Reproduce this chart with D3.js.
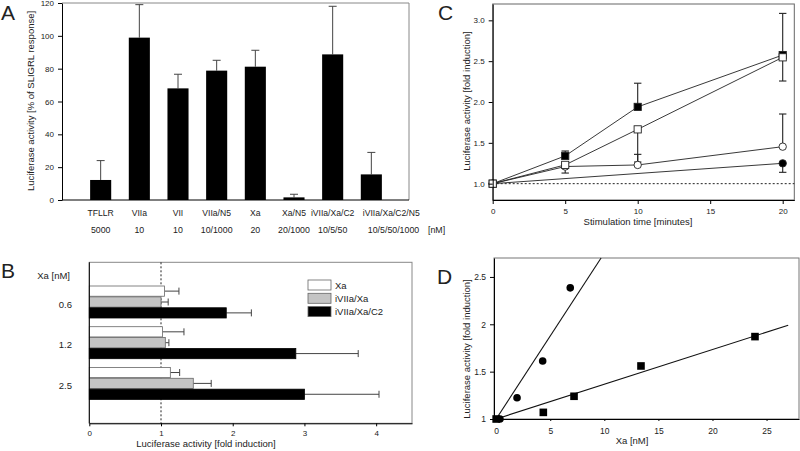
<!DOCTYPE html>
<html><head><meta charset="utf-8">
<script src="https://cdn.jsdelivr.net/npm/d3@7"></script>
<style>
body{margin:0;background:#fff;}
svg text{font-family:"Liberation Sans",Arial,Helvetica,sans-serif;fill:#222;}
</style></head>
<body><svg id="c" width="800" height="451"></svg>
<script>
// ---------- Panel A data ----------
const catsA = ["TFLLR","VIIa","VII","VIIa/N5","Xa","Xa/N5","iVIIa/Xa/C2","iVIIa/Xa/C2/N5"];
const concA = ["5000","10","10","10/1000","20","20/1000","10/5/50","10/5/50/1000"];
const valuesA = [12.2, 98.9, 68, 78.8, 81.2, 1.6, 88.7, 15.6];
const errorsA = [11.8, 20.1, 8.6, 6.3, 10.0, 1.9, 29.3, 13.4];
const ticksA = [0,20,40,60,80,100,120];
// ---------- Panel B data ----------
const groupsB = ["0.6","1.2","2.5"];
const seriesB = ["Xa","iVIIa/Xa","iVIIa/Xa/C2"];
const valXaB = [1.05, 1.02, 1.13];
const errXaB = [0.20, 0.30, 0.13];
const valIVIIaXaB = [1.00, 1.06, 1.45];
const errIVIIaXaB = [0.10, 0.05, 0.25];
const valC2B = [1.91, 2.88, 3.00];
const errC2B = [0.35, 0.87, 1.04];
const ticksB = [0,1,2,3,4];
// ---------- Panel C data ----------
const timesC = [0,5,10,20];
const filledSqC = [1.0, 1.34, 1.94, 2.575];
const filledSqErrUp = [0, 0.06, 0.29, 0.51];
const openSqC = [1.0, 1.23, 1.665, 2.547];
const openSqErrDown = [0, 0.10, 0.40, 0.29];
const openCircC = [1.0, 1.21, 1.229, 1.453];
const openCircErrUp = [0, 0.04, 0.13, 0.40];
const timesFilledCircC = [0, 20];
const filledCircC = [1.0, 1.249];
const filledCircErrDown = [0, 0.11];
const ticksCx = [0,5,10,15,20];
const ticksCy = [1.0,1.5,2.0,2.5,3.0];
// ---------- Panel D data ----------
const circXD = [0.35, 1.93, 4.3, 6.85];
const circYD = [1.0, 1.225, 1.612, 2.385];
const sqXD = [0, 4.36, 7.2, 13.39, 23.93];
const sqYD = [1.0, 1.07, 1.24, 1.56, 1.87];
const fitCircD = [[0,1.0],[9.7,2.7]];
const fitSqD = [[0,1.0],[27,1.99]];
const ticksDx = [0,5,10,15,20,25];
const ticksDy = [1,1.5,2,2.5];

const svg = d3.select("#c");
const FS = "Liberation Sans";

function styleAxis(g, fs){
  g.selectAll("path.domain").attr("stroke","#000").attr("stroke-width",1);
  g.selectAll(".tick line").attr("stroke","#000");
  g.selectAll(".tick text").attr("font-size",fs).attr("fill","#222").attr("font-family",FS);
}
function letter(t,x,y){svg.append("text").attr("x",x).attr("y",y).attr("font-size",21).text(t);}

// ================= Panel A =================
{
  const L=62,R=409,T=3,B=200;
  const y = d3.scaleLinear().domain([0,120]).range([B,T]);
  const x = d3.scaleBand().domain(catsA).range([L,410]).paddingInner(0.455).paddingOuter(0.7275);
  const g = svg.append("g");
  g.append("line").attr("x1",L).attr("x2",R).attr("y1",T).attr("y2",T).attr("stroke","#888");
  g.append("line").attr("x1",R).attr("x2",R).attr("y1",T).attr("y2",B).attr("stroke","#888");
  g.append("line").attr("x1",L).attr("x2",R).attr("y1",B).attr("y2",B).attr("stroke","#000");
  catsA.forEach((c,i)=>{
    const cx = x(c)+x.bandwidth()/2;
    g.append("line").attr("x1",cx).attr("x2",cx).attr("y1",y(valuesA[i])).attr("y2",y(valuesA[i]+errorsA[i])).attr("stroke","#444");
    g.append("line").attr("x1",cx-4).attr("x2",cx+4).attr("y1",y(valuesA[i]+errorsA[i])).attr("y2",y(valuesA[i]+errorsA[i])).attr("stroke","#444");
  });
  g.selectAll("rect.a").data(catsA).join("rect")
    .attr("x",d=>x(d)).attr("width",x.bandwidth())
    .attr("y",(d,i)=>y(valuesA[i])).attr("height",(d,i)=>B-y(valuesA[i])).attr("fill","#000");
  const ax = g.append("g").attr("transform",`translate(${L},0)`)
    .call(d3.axisLeft(y).tickValues(ticksA).tickSize(4).tickPadding(4).tickSizeOuter(0));
  styleAxis(ax,8);
  catsA.forEach((c,i)=>{
    const cx = x(c)+x.bandwidth()/2;
    const last = i===catsA.length-1;
    g.append("text").attr("x", last? cx-8.5 : cx).attr("y",216).attr("font-size",8.6)
      .attr("text-anchor", last?"start":"middle").text(c);
    g.append("text").attr("x", last? cx-3.5 : cx).attr("y",233).attr("font-size",8.8)
      .attr("text-anchor", last?"start":"middle").text(concA[i]);
  });
  g.append("text").attr("x",428).attr("y",233).attr("font-size",8.8).text("[nM]");
  g.append("text").attr("transform","translate(34,101) rotate(-90)").attr("text-anchor","middle")
    .attr("font-size",9.5).text("Luciferase activity [% of SLIGRL response]");
  letter("A",1,20);
}

// ================= Panel B =================
{
  const L=89.3,R=412,T=262.3,B=423.3;
  const x = d3.scaleLinear().domain([0,4.5]).range([L,R]);
  const y = d3.scaleBand().domain(groupsB).range([281.65,403.75]).paddingInner(0.214).paddingOuter(0.107);
  const yi = d3.scaleBand().domain(seriesB).range([0,y.bandwidth()]).paddingInner(0.06);
  const g = svg.append("g");
  g.append("rect").attr("x",L).attr("y",T).attr("width",R-L).attr("height",B-T).attr("fill","none").attr("stroke","#888");
  g.append("line").attr("x1",x(1)).attr("x2",x(1)).attr("y1",T).attr("y2",B).attr("stroke","#222").attr("stroke-dasharray","2,2");
  const fills = ["#fff","#c4c4c4","#000"];
  const vals = [valXaB,valIVIIaXaB,valC2B];
  const errs = [errXaB,errIVIIaXaB,errC2B];
  seriesB.forEach((s,si)=>{
    groupsB.forEach((gr,gi)=>{
      const yy = y(gr)+yi(s);
      const cy = yy+yi.bandwidth()/2;
      const v = vals[si][gi], e = errs[si][gi];
      g.append("line").attr("x1",x(v)).attr("x2",x(v+e)).attr("y1",cy).attr("y2",cy).attr("stroke","#444");
      g.append("line").attr("x1",x(v+e)).attr("x2",x(v+e)).attr("y1",cy-3.5).attr("y2",cy+3.5).attr("stroke","#444");
      g.append("rect").attr("x",L).attr("y",yy).attr("width",x(v)-L).attr("height",yi.bandwidth())
        .attr("fill",fills[si]).attr("stroke", si===2?"#000":"#666").attr("stroke-width",0.8);
    });
  });
  const ax = g.append("g").attr("transform",`translate(0,${B})`)
    .call(d3.axisBottom(x).tickValues(ticksB).tickFormat(d3.format("d")).tickSize(3).tickPadding(4).tickSizeOuter(0));
  styleAxis(ax,8);
  g.append("line").attr("x1",L).attr("x2",L).attr("y1",T).attr("y2",B).attr("stroke","#000");
  groupsB.forEach(gr=>{
    g.append("text").attr("x",72).attr("y",y(gr)+y.bandwidth()/2+5.5).attr("text-anchor","end").attr("font-size",9.5).text(gr);
  });
  g.append("text").attr("x",70).attr("y",279).attr("text-anchor","end").attr("font-size",9.5).text("Xa [nM]");
  g.append("text").attr("x",206).attr("y",447).attr("text-anchor","middle").attr("font-size",9.5).text("Luciferase activity [fold induction]");
  seriesB.forEach((s,si)=>{
    const yy = 280+si*13.3;
    g.append("rect").attr("x",308).attr("y",yy).attr("width",23).attr("height",10).attr("fill",fills[si]).attr("stroke","#666").attr("stroke-width",0.8);
    g.append("text").attr("x",335).attr("y",yy+8.5).attr("font-size",9.5).text(s);
  });
  letter("B",1,278);
}

// ================= Panel C =================
{
  const L=492.7,R=794.3,T=4,B=200;
  const x = d3.scaleLinear().domain([0,20.8]).range([L,R]);
  const y = d3.scaleLinear().domain([0.8,3.2]).range([B,T]);
  const g = svg.append("g");
  g.append("rect").attr("x",L).attr("y",T).attr("width",R-L).attr("height",B-T).attr("fill","none").attr("stroke","#666");
  g.append("line").attr("x1",L).attr("x2",R).attr("y1",y(1)).attr("y2",y(1)).attr("stroke","#222").attr("stroke-dasharray","2,2");
  const line = d3.line().x(d=>x(d[0])).y(d=>y(d[1]));
  const series = [
    {t:timesFilledCircC, v:filledCircC, e:filledCircErrDown, dir:-1, shape:"circle", fill:"#000"},
    {t:timesC, v:openCircC, e:openCircErrUp, dir:1, shape:"circle", fill:"#fff"},
    {t:timesC, v:filledSqC, e:filledSqErrUp, dir:1, shape:"square", fill:"#000"},
    {t:timesC, v:openSqC, e:openSqErrDown, dir:-1, shape:"square", fill:"#fff"}
  ];
  series.forEach(s=>{
    g.append("path").attr("d",line(s.t.map((t,i)=>[t,s.v[i]]))).attr("fill","none").attr("stroke","#222").attr("stroke-width",0.9);
  });
  series.forEach(s=>{
    s.t.forEach((t,i)=>{
      if(!s.e[i]) return;
      const y2 = y(s.v[i]+s.dir*s.e[i]);
      g.append("line").attr("x1",x(t)).attr("x2",x(t)).attr("y1",y(s.v[i])).attr("y2",y2).attr("stroke","#222").attr("stroke-width",1.1);
      g.append("line").attr("x1",x(t)-3.7).attr("x2",x(t)+3.7).attr("y1",y2).attr("y2",y2).attr("stroke","#222").attr("stroke-width",1.1);
    });
  });
  series.forEach(s=>{
    s.t.forEach((t,i)=>{
      if(s.shape==="circle")
        g.append("circle").attr("cx",x(t)).attr("cy",y(s.v[i])).attr("r",3.7).attr("fill",s.fill).attr("stroke","#222").attr("stroke-width",0.9);
      else
        g.append("rect").attr("x",x(t)-3.6).attr("y",y(s.v[i])-3.6).attr("width",7.2).attr("height",7.2).attr("fill",s.fill).attr("stroke","#222").attr("stroke-width",0.9);
    });
  });
  const ay = g.append("g").attr("transform",`translate(${L},0)`)
    .call(d3.axisLeft(y).tickValues(ticksCy).tickFormat(d3.format(".1f")).tickSize(4).tickPadding(4).tickSizeOuter(0));
  styleAxis(ay,8);
  const ax = g.append("g").attr("transform",`translate(0,${B})`)
    .call(d3.axisBottom(x).tickValues(ticksCx).tickSize(4).tickPadding(4).tickSizeOuter(0));
  styleAxis(ax,8);
  g.append("text").attr("x",638).attr("y",225).attr("text-anchor","middle").attr("font-size",9.5).text("Stimulation time [minutes]");
  g.append("text").attr("transform","translate(470,101) rotate(-90)").attr("text-anchor","middle")
    .attr("font-size",9.5).text("Luciferase activity [fold induction]");
  letter("C",438,20);
}

// ================= Panel D =================
{
  const L=494,R=799,T=258,B=419;
  const x = d3.scaleLinear().domain([-0.2,28]).range([L,R]);
  const y = d3.scaleLinear().domain([1,2.7]).range([B,T]);
  const g = svg.append("g");
  g.append("rect").attr("x",L).attr("y",T).attr("width",R-L).attr("height",B-T).attr("fill","none").attr("stroke","#777");
  const line = d3.line().x(d=>x(d[0])).y(d=>y(d[1]));
  [fitCircD,fitSqD].forEach(f=>g.append("path").attr("d",line(f)).attr("fill","none").attr("stroke","#111").attr("stroke-width",1.1));
  sqXD.forEach((v,i)=>g.append("rect").attr("x",x(v)-3.8).attr("y",y(sqYD[i])-3.8).attr("width",7.6).attr("height",7.6).attr("fill","#000"));
  circXD.forEach((v,i)=>g.append("circle").attr("cx",x(v)).attr("cy",y(circYD[i])).attr("r",3.8).attr("fill","#000"));
  const ay = g.append("g").attr("transform",`translate(${L},0)`)
    .call(d3.axisLeft(y).tickValues(ticksDy).tickFormat(d3.format("~g")).tickSize(4).tickPadding(4).tickSizeOuter(0));
  styleAxis(ay,8.5);
  const ax = g.append("g").attr("transform",`translate(0,${B})`)
    .call(d3.axisBottom(x).tickValues(ticksDx).tickFormat(d3.format("d")).tickSize(2).tickPadding(7).tickSizeOuter(0));
  styleAxis(ax,8.5);
  g.append("text").attr("x",632).attr("y",444).attr("text-anchor","middle").attr("font-size",9.5).text("Xa [nM]");
  g.append("text").attr("transform","translate(470,349) rotate(-90)").attr("text-anchor","middle")
    .attr("font-size",9.5).text("Luciferase activity [fold induction]");
  letter("D",437,284);
}
</script></body></html>
